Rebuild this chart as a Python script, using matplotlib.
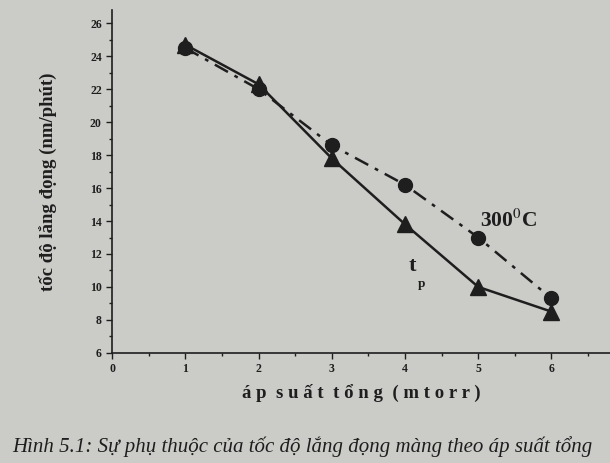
import matplotlib.pyplot as plt
import numpy as np

# data
pressure = [1, 2, 3, 4, 5, 6]
rate_tp = [24.7, 22.3, 17.8, 13.8, 10.0, 8.5]
rate_300 = [24.5, 22.0, 18.6, 16.2, 13.0, 9.3]
yticks = [6, 8, 10, 12, 14, 16, 18, 20, 22, 24, 26]
xticks = [0, 1, 2, 3, 4, 5, 6]

bg = '#cbcbc8'
ink = '#1e1e1e'
plt.rcParams['font.family'] = ['Liberation Serif', 'DejaVu Serif']
plt.rcParams['mathtext.fontset'] = 'stix'

fig = plt.figure(figsize=(6.1, 4.63), dpi=100, facecolor=bg)
ax = fig.add_axes([0.184, 0.238, 0.816, 0.74])
ax.set_facecolor(bg)

ax.plot(pressure, rate_300, color=ink, lw=1.8, ls=(0, (6, 3, 1.5, 3)),
        marker='o', ms=10, mfc=ink, mec=ink, zorder=3)
ax.plot(pressure, rate_tp, color=ink, lw=1.8, ls='-',
        marker='^', ms=11, mfc=ink, mec=ink, zorder=4)

ax.text(5.02, 14.0, '300$^{0}$C', fontsize=15.5, fontweight='bold', color=ink,
        va='center', ha='left')
ax.text(4.05, 11.3, 't', fontsize=16, fontweight='bold', color=ink,
        va='center', ha='left')
ax.text(4.17, 10.2, 'p', fontsize=9.5, fontweight='bold', color=ink,
        va='center', ha='left')

ax.set_xlim(0, 6.8)
ax.set_ylim(6, 26.8)
ax.set_xticks(xticks)
ax.set_xticks(np.arange(0.5, 6.6, 1), minor=True)
ax.set_yticks(yticks)
ax.set_yticks(np.arange(7, 26, 2), minor=True)
ax.tick_params(axis='both', which='major', labelsize=8.5, colors=ink,
               direction='out', length=4, width=1)
ax.tick_params(axis='both', which='minor', direction='out', length=2.5,
               width=1, colors=ink)
for lab in ax.get_xticklabels() + ax.get_yticklabels():
    lab.set_fontweight('bold')

for s in ['top', 'right']:
    ax.spines[s].set_visible(False)
for s in ['left', 'bottom']:
    ax.spines[s].set_color(ink)
    ax.spines[s].set_linewidth(1.2)

ax.set_ylabel('tốc độ lắng đọng (nm/phút)', fontsize=13.5, fontweight='bold',
              color=ink, labelpad=24)
ax.set_xlabel('á p  s u ấ t  t ổ n g  ( m t o r r )', fontsize=13.5,
              fontweight='bold', color=ink, labelpad=6)

fig.text(0.495, 0.035, 'Hình 5.1: Sự phụ thuộc của tốc độ lắng đọng màng theo áp suất tổng',
         fontsize=15, style='italic', color=ink, ha='center', va='center')

fig.savefig('out.png', dpi=100, facecolor=bg)
